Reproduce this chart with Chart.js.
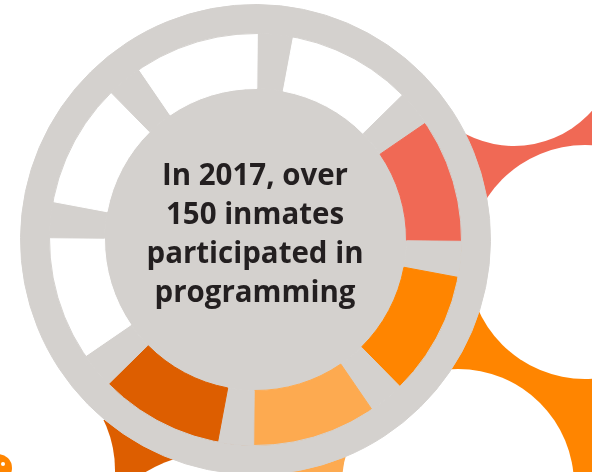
<!DOCTYPE html>
<html>
<head>
<meta charset="utf-8">
<script src="https://cdn.jsdelivr.net/npm/chart.js@4.4.1/dist/chart.umd.min.js"></script>
<style>
html,body{margin:0;padding:0;width:592px;height:472px;overflow:hidden;background:#ffffff;}
#stage{position:relative;width:592px;height:472px;overflow:hidden;background:#ffffff;}
.blk{position:absolute;}
.circ{position:absolute;border-radius:50%;background:#ffffff;}
#chart{position:absolute;left:0;top:0;}
#label{position:absolute;left:105px;top:154px;width:300px;text-align:center;
  font-family:"Open Sans",sans-serif;font-weight:700;font-size:30px;line-height:39px;color:#231F20;}
#label div{white-space:nowrap;}
</style>
</head>
<body>
<div id="stage">
  <!-- decorative background shapes -->
  <div class="blk" style="left:430px;top:100px;width:162px;height:150px;background:#F06955;"></div>
  <div class="blk" style="left:420px;top:250px;width:172px;height:222px;background:#FF8500;"></div>
  <div class="blk" style="left:260px;top:430px;width:100px;height:42px;background:#FDAA50;"></div>
  <div class="blk" style="left:100px;top:420px;width:160px;height:52px;background:#DD5E00;"></div>
  <div class="circ" style="left:410px;top:-62px;width:208px;height:208px;"></div>
  <div class="circ" style="left:468px;top:145px;width:234px;height:234px;"></div>
  <div class="circ" style="left:342px;top:369px;width:232px;height:232px;"></div>
  <div class="circ" style="left:80px;top:452px;width:274px;height:274px;"></div>
  <div class="circ" style="left:-115px;top:355px;width:230px;height:230px;"></div>
  <div class="circ" style="left:-16px;top:454px;width:28px;height:28px;background:#FF8500;"></div>
  <div class="circ" style="left:1px;top:462px;width:4px;height:4px;"></div>
  <canvas id="chart" width="592" height="480"></canvas>
  <div id="label">
    <div>In 2017, over</div>
    <div>150 inmates</div>
    <div>participated in</div>
    <div>programming</div>
  </div>
</div>
<script>
// Wheel slices, clockwise from 0.5° past 12 o'clock: spoke gap, segment, ...
const sliceLabels = [
  "gap1", "Segment 1",
  "gap2", "Segment 2",
  "gap3", "Segment 3",
  "gap4", "Segment 4",
  "gap5", "Segment 5",
  "gap6", "Segment 6",
  "gap7", "Segment 7",
  "gap8", "Segment 8"
];
const sliceValues = [
  10.1, 34.9,
  10.1, 34.9,
  10.1, 34.9,
  10.1, 34.9,
  10.1, 34.9,
  10.1, 34.9,
  10.1, 34.9,
  10.1, 34.9
];
const GREY = "#D4D1CE";
const sliceColors = [
  GREY, "#FFFFFF",
  GREY, "#F06955",
  GREY, "#FF8500",
  GREY, "#FDAA50",
  GREY, "#DD5E00",
  GREY, "#FFFFFF",
  GREY, "#FFFFFF",
  GREY, "#FFFFFF"
];
const rimValues = [1];
const hubValues = [1];

new Chart(document.getElementById("chart"), {
  type: "doughnut",
  data: {
    labels: sliceLabels,
    datasets: [
      { data: rimValues, backgroundColor: [GREY], borderColor: [GREY], borderWidth: 1, weight: 29 },
      { data: sliceValues, backgroundColor: sliceColors, borderColor: sliceColors, borderWidth: 1, weight: 55 },
      { data: hubValues, backgroundColor: [GREY], borderColor: [GREY], borderWidth: 1, weight: 151 }
    ]
  },
  options: {
    responsive: false,
    animation: false,
    events: [],
    cutout: 0,
    rotation: 0.5,
    layout: { padding: { left: 20, right: 101, top: 4, bottom: 5 } },
    plugins: { legend: { display: false }, tooltip: { enabled: false } }
  }
});

// fit text lines to the reference widths (condensed humanist bold)
(function(){
  const lines = document.querySelectorAll('#label div');
  const c = document.createElement('canvas').getContext('2d');
  c.font = '700 30px "Open Sans"';
  const w = c.measureText('participated in').width;
  const s = 217 / w;
  lines.forEach(l => { l.style.transform = 'scaleX(' + s + ')'; });
})();
</script>
</body>
</html>
